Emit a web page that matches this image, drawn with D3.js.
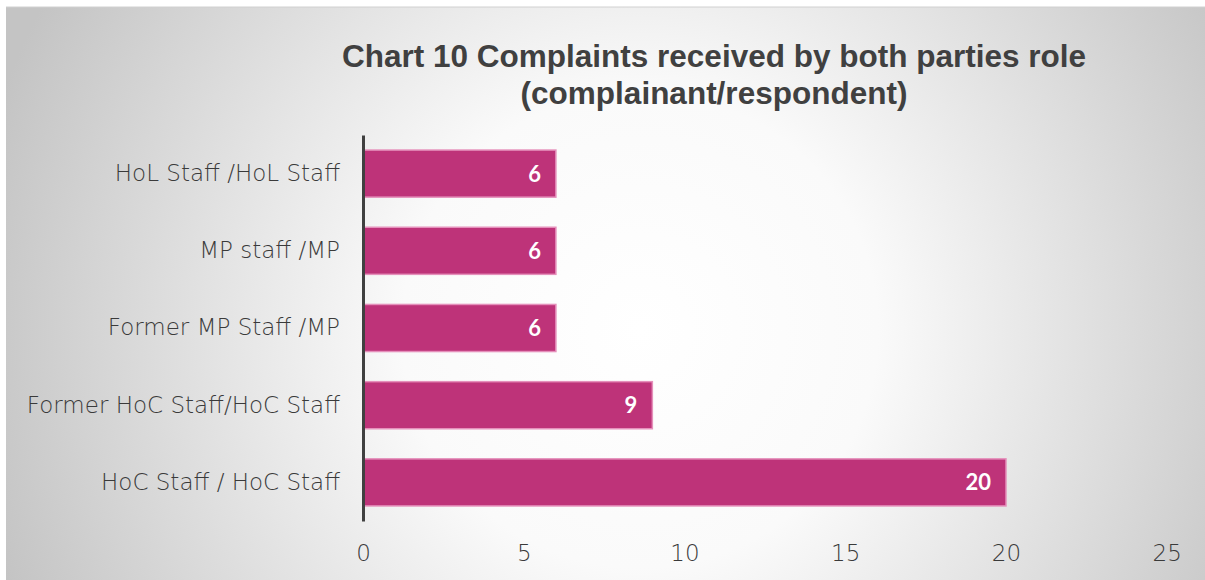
<!DOCTYPE html>
<html><head><meta charset="utf-8">
<script src="https://cdn.jsdelivr.net/npm/d3@7"></script>
<style>html,body{margin:0;padding:0;background:#fff;}</style>
</head><body>
<script>
const categories = ["HoL Staff /HoL Staff","MP staff /MP","Former MP Staff /MP","Former HoC Staff/HoC Staff","HoC Staff / HoC Staff"];
const values = [6,6,6,9,20];
const xTicks = [0,5,10,15,20,25];
const titleLines = ["Chart 10 Complaints received by both parties role","(complainant/respondent)"];

const W=1205,H=580;
const svg=d3.select("body").append("svg").attr("width",W).attr("height",H);
const defs=svg.append("defs");
const rg=defs.append("radialGradient").attr("id","bg").attr("gradientUnits","userSpaceOnUse")
  .attr("cx",640).attr("cy",330).attr("r",680);
rg.append("stop").attr("offset","0").attr("stop-color","#ffffff");
rg.append("stop").attr("offset","0.35").attr("stop-color","#fafafa");
rg.append("stop").attr("offset","1").attr("stop-color","#c4c4c4");
svg.append("rect").attr("x",6).attr("y",7).attr("width",W-6).attr("height",H-7).attr("fill","url(#bg)");
svg.append("line").attr("x1",6).attr("x2",W).attr("y1",7).attr("y2",7).attr("stroke","#d0d0d0").attr("stroke-width",1);

const x=d3.scaleLinear().domain([0,25]).range([363,1166.75]);
const y=d3.scaleBand().domain(categories).range([135,521]).paddingInner(0.39).paddingOuter(0.195);

const t=svg.append("text").attr("text-anchor","middle").style("font-family","'Liberation Sans', Arial, sans-serif")
  .style("font-weight","bold").style("font-size","31.5px").attr("fill","#404040");
titleLines.forEach((l,i)=>t.append("tspan").attr("x",714).attr("y",67+i*37).text(l));

svg.selectAll("rect.bar").data(values).join("rect").attr("class","bar")
  .attr("x",x(0)).attr("y",(d,i)=>y(categories[i])).attr("width",d=>x(d)-x(0)).attr("height",y.bandwidth())
  .attr("fill","#be3379").attr("stroke","#e590bb").attr("stroke-width",1.5);

svg.selectAll("text.val").data(values).join("text").attr("class","val")
  .attr("x",d=>x(d)-15).attr("y",(d,i)=>y(categories[i])+y.bandwidth()/2+8)
  .attr("text-anchor","end").style("font-family","Lato, sans-serif").style("font-weight","bold")
  .style("font-size","22px").attr("fill","#ffffff").text(d=>d);

const ya=svg.append("g").attr("transform",`translate(${x(0)},0)`).call(d3.axisLeft(y).tickSize(0).tickPadding(23));
ya.select(".domain").attr("stroke","#404040").attr("stroke-width",3);
ya.selectAll("text").style("font-family","'DejaVu Sans Light', 'DejaVu Sans', sans-serif").style("font-size","23px").attr("fill","#3a3a3a");

const xa=svg.append("g").attr("transform","translate(0,521)").call(d3.axisBottom(x).tickValues(xTicks).tickSize(0).tickPadding(24).tickFormat(d3.format("d")));
xa.select(".domain").remove();
xa.selectAll("text").style("font-family","'DejaVu Sans Light', 'DejaVu Sans', sans-serif").style("font-size","23px").attr("fill","#3a3a3a");
</script>
</body></html>
